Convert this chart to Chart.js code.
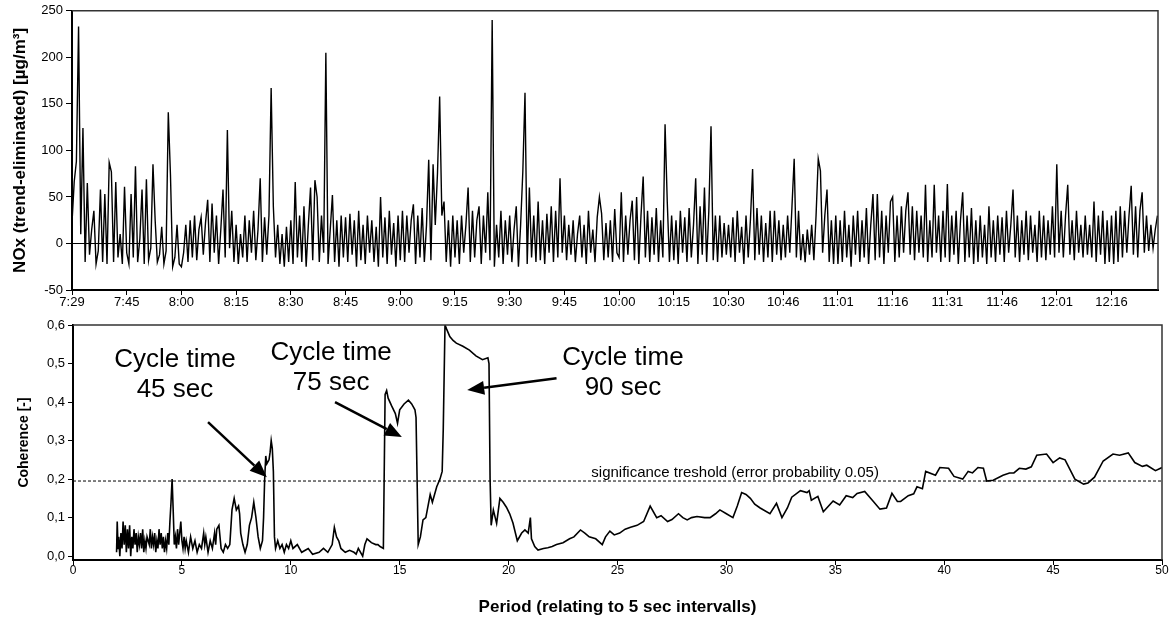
<!DOCTYPE html>
<html>
<head>
<meta charset="utf-8">
<script src="https://cdn.jsdelivr.net/npm/chart.js@4/dist/chart.umd.min.js"></script>
<style>
  html, body { margin: 0; padding: 0; background: #fff; }
  .panel { position: absolute; left: 0; }
  #topPanel { top: 0; }
  #bottomPanel { top: 310px; }
</style>
</head>
<body>
<div class="panel" id="topPanel"><canvas id="noxChart" width="1172" height="310"></canvas></div>
<div class="panel" id="bottomPanel"><canvas id="cohChart" width="1172" height="313"></canvas></div>
<script>
// tick labels of the time axis (one label per tick interval)
const timeLabels = ["7:29", "7:45", "8:00", "8:15", "8:30", "8:45", "9:00", "9:15", "9:30", "9:45",
  "10:00", "10:15", "10:30", "10:46", "11:01", "11:16", "11:31", "11:46", "12:01", "12:16"];

// NOx (trend-eliminated), 25 samples per tick interval
const noxValues = [
  22, 66, 88, 233, 10, 124, -20, 65, -12, 15, 35, -22, -8, 58, -20, 53, -22, 87, 77, -20, 66, -15, 10, -22, 61,
  -10, -22, 53, -15, 83, -20, 5, 58, -22, 69, -18, -5, 85, 25, -20, -12, 18, -22, -8, 141, 73, -25, -15, 20, -22,
  -25, -10, 20, -20, 25, -15, 30, -18, 15, 28, -12, 22, 47, -20, 43, -10, 30, -22, 15, 58, -15, 122, -5, 35, -20,
  20, -22, 10, -15, 30, -20, 25, -10, 35, -18, 15, 70, -20, 28, -12, 30, 167, 40, -15, 20, -22, 10, -25, 18, -20,
  25, -22, 66, -15, 30, -20, 40, -25, 20, 60, -18, 68, 50, -20, 30, -10, 205, -22, 15, 52, -20, 25, -25, 30, -15,
  28, -20, 32, -12, 25, -25, 35, -18, 20, -22, 30, -10, 25, -20, 18, -25, 50, -15, 28, -22, 35, -12, 22, -25, 30,
  -18, 35, -20, 30, -10, 25, 42, -22, 30, -15, 38, -20, 20, 90, -18, 85, 20, 75, 158, 30, 45, -20, 25, -25, 30,
  -15, 25, -22, 30, -10, 20, 60, -20, 35, -15, 25, 40, -22, 30, -10, 55, -18, 240, -25, 20, -15, 35, -22, 25, -12,
  30, -20, 15, 40, -25, 20, 77, 162, -22, 60, -15, 30, -20, 45, -18, 25, -22, 32, -10, 40, -20, 35, -15, 70, -10,
  30, -18, 20, -12, 25, -20, 10, 30, -15, 20, -22, 35, -10, 15, -20, 28, 50, 32, -18, 22, -15, 25, -20, 37, -10,
  -15, 55, -20, 30, -12, 25, 46, -18, 50, -22, 30, 72, -15, 35, -20, 28, -12, 38, -20, 25, -15, 128, 45, -20, 30,
  -18, 25, -22, 35, -10, 28, -20, 38, -15, 20, 70, -22, 40, -12, 60, -20, 35, 126, -18, 30, -20, 30, -15, 22, -12,
  20, -15, 28, -20, 35, -10, 18, -22, 30, -15, 25, 80, -18, 38, -12, 30, -20, 22, -15, 35, -20, 35, -12, 25, -18,
  20, -15, 30, -10, 40, 91, -15, 35, -18, 10, -20, 15, -12, 20, -18, 30, 91, 78, -10, 30, 58, -20, 25, -22, 30,
  -22, 25, -20, 35, -15, 20, -25, 30, -12, 35, -20, 25, -15, 38, -22, 20, 53, -18, 53, -15, 35, -22, 30, -10, 45,
  50, -20, 30, -15, 40, -10, 35, 55, -12, 40, -18, 35, -10, 30, -15, 63, -20, 25, -15, 63, -10, 30, -20, 35, -15,
  64, -20, 30, -12, 35, -22, 25, 55, -20, 30, -15, 38, -22, 25, -20, 30, -15, 20, -22, 40, -15, 25, -20, 30, -12,
  28, -20, 35, -10, 20, 58, -15, 30, -20, 25, -12, 35, -18, 30, -10, 20, -20, 35, -15, 30, -18, 25, -12, 40, -15,
  85, -10, 35, -15, 30, 63, -12, 25, -18, 35, -10, 20, -15, 30, -12, 20, -15, 45, -20, 30, -12, 35, -22, 25, -20,
  30, -22, 35, -20, 40, -15, 35, -10, 30, 62, -12, 40, -15, 35, 55, -10, 30, -8, 20, -5, 15, 30
];
const samplesPerTick = 25;

// coherence spectrum: period (5 sec units) and coherence
const periodX = [
  2.0, 2.03, 2.07, 2.1, 2.15, 2.2, 2.25, 2.3, 2.35, 2.4, 2.45, 2.5, 2.55, 2.6, 2.65, 2.7, 2.75, 2.8, 2.85, 2.9,
  2.95, 3.0, 3.05, 3.1, 3.15, 3.2, 3.25, 3.3, 3.35, 3.4, 3.5, 3.55, 3.6, 3.65, 3.7, 3.75, 3.8, 3.85, 3.9, 3.95,
  4.0, 4.05, 4.1, 4.15, 4.2, 4.25, 4.3, 4.35, 4.4, 4.45, 4.5, 4.55, 4.6, 4.65, 4.7, 4.75, 4.8, 4.85, 4.95, 5.0,
  5.05, 5.1, 5.15, 5.2, 5.3, 5.4, 5.5, 5.6, 5.7, 5.8, 5.9, 6.0, 6.05, 6.1, 6.2, 6.3, 6.4, 6.5, 6.55, 6.6,
  6.7, 6.8, 6.9, 7.0, 7.1, 7.2, 7.3, 7.4, 7.5, 7.6, 7.65, 7.7, 7.8, 7.9, 8.0, 8.1, 8.2, 8.25, 8.3, 8.4,
  8.5, 8.6, 8.7, 8.75, 8.8, 8.85, 8.9, 9.0, 9.05, 9.1, 9.15, 9.2, 9.25, 9.3, 9.4, 9.5, 9.6, 9.7, 9.8, 9.9,
  10.0, 10.1, 10.3, 10.5, 10.8, 11.0, 11.3, 11.5, 11.7, 11.9, 12.0, 12.1, 12.2, 12.3, 12.5, 12.7, 12.9, 13.0, 13.1, 13.3,
  13.4, 13.5, 13.7, 13.9, 14.0, 14.1, 14.25, 14.33, 14.4, 14.47, 14.63, 14.8, 14.9, 15.0, 15.2, 15.4, 15.55, 15.7, 15.75, 15.85,
  15.95, 16.07, 16.2, 16.4, 16.5, 16.7, 16.85, 16.95, 17.0, 17.08, 17.15, 17.3, 17.45, 17.6, 17.9, 18.2, 18.5, 18.8, 19.05, 19.1,
  19.15, 19.2, 19.3, 19.45, 19.6, 19.75, 19.9, 20.05, 20.2, 20.4, 20.6, 20.75, 20.9, 21.0, 21.05, 21.2, 21.35, 21.6, 21.8, 22.0,
  22.2, 22.5, 22.8, 23.0, 23.3, 23.5, 23.7, 24.0, 24.3, 24.45, 24.65, 24.85, 25.1, 25.35, 25.6, 25.9, 26.2, 26.5, 26.8, 27.0,
  27.3, 27.5, 27.8, 28.0, 28.2, 28.4, 28.65, 29.0, 29.25, 29.5, 29.7, 30.0, 30.3, 30.5, 30.7, 30.9, 31.1, 31.3, 31.55, 32.0,
  32.3, 32.55, 32.8, 33.0, 33.4, 33.7, 33.8, 33.9, 34.2, 34.45, 34.9, 35.2, 35.5, 35.8, 36.0, 36.35, 36.7, 37.05, 37.35, 37.6,
  37.85, 38.0, 38.35, 38.6, 38.75, 39.0, 39.15, 39.6, 39.8, 40.2, 40.45, 40.85, 41.1, 41.3, 41.55, 41.8, 41.95, 42.25, 42.7, 43.0,
  43.2, 43.45, 43.75, 44.0, 44.25, 44.7, 45.0, 45.3, 45.55, 46.0, 46.4, 46.6, 46.9, 47.3, 47.75, 48.05, 48.45, 48.75, 49.1, 49.3,
  49.7, 50.0
];
const coherenceY = [
  0.01, 0.09, 0.02, 0.05, 0.0, 0.06, 0.02, 0.09, 0.03, 0.08, 0.01, 0.07, 0.02, 0.08, 0.0, 0.05, 0.02, 0.07, 0.03, 0.06,
  0.01, 0.05, 0.03, 0.06, 0.02, 0.07, 0.01, 0.04, 0.02, 0.05, 0.03, 0.07, 0.02, 0.05, 0.03, 0.06, 0.01, 0.04, 0.02, 0.07,
  0.03, 0.06, 0.02, 0.05, 0.01, 0.04, 0.02, 0.06, 0.03, 0.09, 0.14, 0.2, 0.12, 0.03, 0.05, 0.02, 0.07, 0.03, 0.09, 0.04,
  0.02, 0.05, 0.02, 0.04, 0.01, 0.05, 0.02, 0.04, 0.01, 0.03, 0.02, 0.06, 0.03, 0.05, 0.01, 0.04, 0.02, 0.06, 0.03, 0.07,
  0.08, 0.02, 0.01, 0.03, 0.02, 0.03, 0.12, 0.15, 0.12, 0.13, 0.11, 0.06, 0.03, 0.01, 0.03, 0.08, 0.1, 0.12, 0.14, 0.1,
  0.05, 0.02, 0.04, 0.1, 0.2, 0.26, 0.24, 0.25, 0.27, 0.3, 0.28, 0.22, 0.05, 0.02, 0.04, 0.02, 0.03, 0.01, 0.03, 0.02,
  0.04, 0.02, 0.03, 0.01, 0.02, 0.005, 0.01, 0.02, 0.01, 0.03, 0.075, 0.05, 0.04, 0.02, 0.01, 0.015, 0.01, 0.005, 0.02, 0.0,
  0.03, 0.045, 0.035, 0.03, 0.03, 0.025, 0.02, 0.42, 0.43, 0.41, 0.39, 0.37, 0.345, 0.38, 0.395, 0.405, 0.395, 0.38, 0.36, 0.03,
  0.05, 0.094, 0.1, 0.16, 0.14, 0.18, 0.2, 0.22, 0.33, 0.6, 0.59, 0.57, 0.56, 0.553, 0.545, 0.535, 0.52, 0.51, 0.515, 0.5,
  0.2, 0.08, 0.12, 0.085, 0.15, 0.14, 0.127, 0.11, 0.086, 0.04, 0.06, 0.068, 0.06, 0.1, 0.045, 0.025, 0.016, 0.02, 0.022, 0.025,
  0.03, 0.035, 0.045, 0.05, 0.068, 0.06, 0.05, 0.045, 0.03, 0.05, 0.065, 0.055, 0.06, 0.07, 0.075, 0.08, 0.09, 0.13, 0.1, 0.105,
  0.09, 0.095, 0.11, 0.1, 0.094, 0.1, 0.103, 0.1, 0.1, 0.11, 0.12, 0.11, 0.1, 0.13, 0.165, 0.16, 0.15, 0.135, 0.125, 0.11,
  0.137, 0.1, 0.125, 0.153, 0.17, 0.165, 0.17, 0.145, 0.155, 0.115, 0.143, 0.133, 0.157, 0.152, 0.163, 0.168, 0.145, 0.122, 0.125, 0.163,
  0.142, 0.142, 0.157, 0.162, 0.18, 0.175, 0.22, 0.21, 0.23, 0.228, 0.207, 0.2, 0.22, 0.216, 0.23, 0.228, 0.195, 0.197, 0.21, 0.216,
  0.216, 0.228, 0.226, 0.232, 0.262, 0.265, 0.243, 0.255, 0.25, 0.2, 0.187, 0.19, 0.205, 0.247, 0.265, 0.262, 0.268, 0.243, 0.233, 0.236,
  0.222, 0.23
];
const thresholdValue = 0.195;

// annotation labels: [text line 1, text line 2, label x, label y, arrow tail x, tail y, arrow tip x, tip y] in data units
const cycleNotes = [
  ["Cycle time", "45 sec", 4.68, 0.47, 6.2, 0.348, 8.9, 0.205],
  ["Cycle time", "75 sec", 11.85, 0.49, 12.03, 0.4, 15.1, 0.309],
  ["Cycle time", "90 sec", 25.25, 0.475, 22.2, 0.462, 18.1, 0.431]
];

Chart.defaults.font.family = "'Liberation Sans', Arial, sans-serif";
Chart.defaults.color = '#000';

// draws the thin top and right edges of the plot frame
const frameEdges = {
  id: 'frameEdges',
  afterDraw(chart) {
    const { ctx, chartArea: a } = chart;
    ctx.save();
    ctx.strokeStyle = '#333';
    ctx.lineWidth = 1.5;
    ctx.beginPath();
    ctx.moveTo(a.left, a.top);
    ctx.lineTo(a.right, a.top);
    ctx.lineTo(a.right, a.bottom);
    ctx.stroke();
    ctx.restore();
  }
};

// top: NOx time series
const noxPoints = noxValues.map((v, i) => ({ x: i / samplesPerTick, y: v }));

new Chart(document.getElementById('noxChart'), {
  type: 'line',
  data: {
    datasets: [{
      data: noxPoints,
      borderColor: '#000',
      borderWidth: 1.4,
      pointRadius: 0,
      tension: 0
    }]
  },
  options: {
    responsive: false,
    animation: false,
    plugins: { legend: { display: false }, tooltip: { enabled: false } },
    layout: { padding: { top: 9, right: 14, left: 0, bottom: 0 } },
    scales: {
      x: {
        type: 'linear',
        min: 0,
        max: 19.85,
        afterFit: s => { s.height = 20; },
        border: { color: '#000', width: 2 },
        grid: { drawOnChartArea: false, tickLength: 5, color: '#000' },
        ticks: {
          stepSize: 1,
          includeBounds: false,
          autoSkip: false,
          maxRotation: 0,
          padding: 0,
          font: { size: 13 },
          callback: v => timeLabels[Math.round(v)]
        }
      },
      y: {
        min: -50,
        max: 250,
        afterFit: s => { s.width = 72; },
        border: { color: '#000', width: 2 },
        grid: {
          tickLength: 6,
          tickColor: '#000',
          color: c => (c.tick && c.tick.value === 0 ? '#000' : 'rgba(0,0,0,0)')
        },
        ticks: { stepSize: 50, padding: 3, font: { size: 13 } },
        title: {
          display: true,
          text: 'NOx (trend-eliminated) [µg/m³]',
          font: { size: 17, weight: 'bold' },
          padding: { top: 10, bottom: 0 }
        }
      }
    }
  },
  plugins: [frameEdges]
});

// bottom: coherence spectrum
const cohPoints = periodX.map((x, i) => ({ x: x, y: coherenceY[i] }));
const thresholdPoints = [{ x: 0, y: thresholdValue }, { x: 50, y: thresholdValue }];

const notesPlugin = {
  id: 'notes',
  afterDatasetsDraw(chart) {
    const { ctx, scales: { x, y } } = chart;
    ctx.save();
    ctx.fillStyle = '#000';
    ctx.strokeStyle = '#000';
    ctx.textAlign = 'center';
    ctx.textBaseline = 'middle';

    // threshold caption
    ctx.font = "15px 'Liberation Sans', Arial, sans-serif";
    ctx.fillText('significance treshold (error probability 0.05)', x.getPixelForValue(30.4), y.getPixelForValue(0.216));

    ctx.font = "26px 'Liberation Sans', Arial, sans-serif";
    cycleNotes.forEach(n => {
      const cx = x.getPixelForValue(n[2]);
      const cy = y.getPixelForValue(n[3]);
      ctx.fillText(n[0], cx, cy - 15);
      ctx.fillText(n[1], cx, cy + 15);

      const x0 = x.getPixelForValue(n[4]), y0 = y.getPixelForValue(n[5]);
      const x1 = x.getPixelForValue(n[6]), y1 = y.getPixelForValue(n[7]);
      const ang = Math.atan2(y1 - y0, x1 - x0);
      const headLen = 17, headHalf = 7;
      const bx = x1 - headLen * Math.cos(ang), by = y1 - headLen * Math.sin(ang);
      ctx.lineWidth = 2.5;
      ctx.beginPath();
      ctx.moveTo(x0, y0);
      ctx.lineTo(bx, by);
      ctx.stroke();
      ctx.beginPath();
      ctx.moveTo(x1, y1);
      ctx.lineTo(bx + headHalf * Math.sin(ang), by - headHalf * Math.cos(ang));
      ctx.lineTo(bx - headHalf * Math.sin(ang), by + headHalf * Math.cos(ang));
      ctx.closePath();
      ctx.fill();
    });
    ctx.restore();
  }
};

new Chart(document.getElementById('cohChart'), {
  type: 'line',
  data: {
    datasets: [
      {
        data: cohPoints,
        borderColor: '#000',
        borderWidth: 1.6,
        pointRadius: 0,
        tension: 0
      },
      {
        data: thresholdPoints,
        borderColor: '#000',
        borderWidth: 1,
        borderDash: [3, 2],
        pointRadius: 0
      }
    ]
  },
  options: {
    responsive: false,
    animation: false,
    plugins: { legend: { display: false }, tooltip: { enabled: false } },
    layout: { padding: { top: 15, right: 10, left: 0, bottom: 0 } },
    scales: {
      x: {
        type: 'linear',
        min: 0,
        max: 50,
        afterFit: s => { s.height = 63; },
        border: { color: '#000', width: 2 },
        grid: { drawOnChartArea: false, tickLength: 5, color: '#000' },
        ticks: { stepSize: 5, maxRotation: 0, padding: -2, font: { size: 12 } },
        title: {
          display: true,
          text: 'Period (relating to 5 sec intervalls)',
          font: { size: 17, weight: 'bold' },
          padding: { top: 0, bottom: 5 }
        }
      },
      y: {
        min: -0.01,
        max: 0.6,
        afterFit: s => { s.width = 73; },
        border: { color: '#000', width: 2 },
        grid: { drawOnChartArea: false, tickLength: 5, color: '#000' },
        ticks: {
          stepSize: 0.1,
          includeBounds: false,
          padding: 3,
          font: { size: 13 },
          callback: v => v.toFixed(1).replace('.', ',')
        },
        title: {
          display: true,
          text: 'Coherence [-]',
          font: { size: 14, weight: 'bold' },
          padding: { top: 16, bottom: 0 }
        }
      }
    }
  },
  plugins: [frameEdges, notesPlugin]
});
</script>
</body>
</html>
